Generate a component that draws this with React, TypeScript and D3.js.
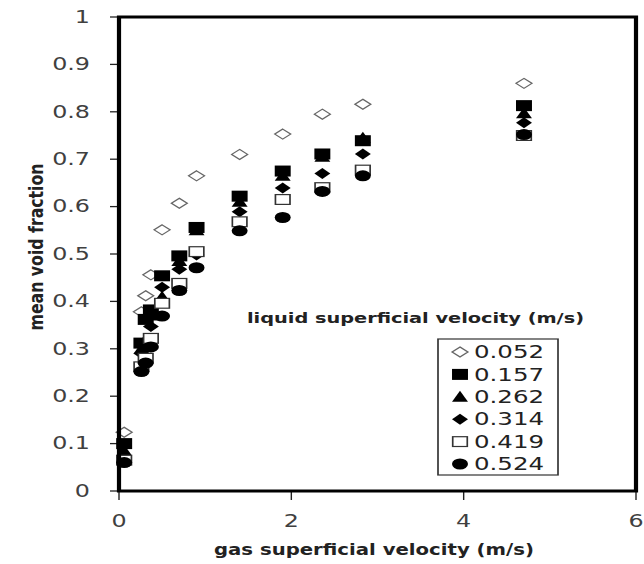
import React from "react";
import * as d3 from "d3";

const gasVelocity = [0.06, 0.26, 0.31, 0.37, 0.5, 0.7, 0.9, 1.4, 1.9, 2.36, 2.83, 4.7];
const seriesNames = ["0.052", "0.157", "0.262", "0.314", "0.419", "0.524"];
const v052 = [0.124, 0.378, 0.412, 0.456, 0.551, 0.607, 0.665, 0.71, 0.753, 0.795, 0.816, 0.86];
const v157 = [0.1, 0.312, 0.362, 0.382, 0.454, 0.496, 0.556, 0.622, 0.675, 0.711, 0.739, 0.813];
const v262 = [0.085, 0.3, 0.32, 0.37, 0.41, 0.485, 0.55, 0.61, 0.665, 0.705, 0.745, 0.797];
const v314 = [0.07, 0.29, 0.3, 0.347, 0.43, 0.468, 0.498, 0.589, 0.639, 0.67, 0.711, 0.777];
const v419 = [0.065, 0.262, 0.28, 0.322, 0.396, 0.438, 0.505, 0.568, 0.615, 0.64, 0.677, 0.75];
const v524 = [0.06, 0.252, 0.27, 0.304, 0.369, 0.423, 0.471, 0.549, 0.577, 0.632, 0.665, 0.752];
const seriesValues = [v052, v157, v262, v314, v419, v524];
const markerKinds = ["openDiamond", "square", "triangle", "diamond", "openSquare", "circle"];
const yTicks = [0, 0.1, 0.2, 0.3, 0.4, 0.5, 0.6, 0.7, 0.8, 0.9, 1];
const xTicks = [0, 2, 4, 6];

const SX = 1.4; // horizontal stretch of the original picture
const W = 644;
const H = 564;

const xScale = d3.scaleLinear().domain([0, 6]).range([119 / SX, 636 / SX]);
const yScale = d3.scaleLinear().domain([0, 1]).range([491, 17]);

function Marker({ kind, x, y }: { kind: string; x: number; y: number }) {
  const hw = 5.7;
  const hh = 5.5;
  const t = `translate(${x},${y})`;
  switch (kind) {
    case "openDiamond":
      return (
        <path transform={t} d={`M0,${-5}L${hw},0L0,5L${-hw},0Z`} fill="#fff" stroke="#666" strokeWidth={1.1} />
      );
    case "diamond":
      return <path transform={t} d={`M0,${-5.5}L${hw},0L0,5.5L${-hw},0Z`} fill="#000" />;
    case "square":
      return <rect x={x - hw} y={y - hh} width={hw * 2} height={hh * 2} fill="#000" />;
    case "openSquare":
      return (
        <rect x={x - hw + 0.5} y={y - hh + 0.6} width={hw * 2 - 1} height={hh * 2 - 1.2} fill="#fff" stroke="#333" strokeWidth={1.2} />
      );
    case "triangle":
      return <path transform={t} d={`M0,${-6}L${hw},5L${-hw},5Z`} fill="#000" />;
    case "circle":
      return <ellipse cx={x} cy={y} rx={hw} ry={hh} fill="#000" />;
    default:
      return null;
  }
}

export default function App() {
  const x0 = xScale(0);
  const x1 = xScale(6);
  const y0 = yScale(0);
  const y1 = yScale(1);
  const legendTop = 339;
  const rowGap = 22.4;
  return (
    <svg width={W} height={H} style={{ display: "block", position: "absolute", left: 0, top: 0, background: "#fff" }}>
      <rect width={W} height={H} fill="#fff" />
      <g transform={`scale(${SX},1)`}>
        {/* y ticks */}
        {yTicks.map((v) => (
          <g key={"y" + v}>
            <line x1={x0 - 9 / SX} x2={x0} y1={yScale(v)} y2={yScale(v)} stroke="#222" strokeWidth={1.3} />
            <text
              x={90 / SX}
              y={yScale(v)}
              textAnchor="end"
              dominantBaseline="central"
              fontFamily="DejaVu Sans"
              fontSize={17}
              fill="#404040"
            >
              {String(+v.toFixed(1))}
            </text>
          </g>
        ))}
        {/* x ticks */}
        {xTicks.map((v) => (
          <g key={"x" + v}>
            <line x1={xScale(v)} x2={xScale(v)} y1={y0} y2={y0 + 9} stroke="#222" strokeWidth={1} />
            <text
              x={xScale(v)}
              y={521}
              textAnchor="middle"
              dominantBaseline="central"
              fontFamily="DejaVu Sans"
              fontSize={17}
              fill="#404040"
            >
              {v}
            </text>
          </g>
        ))}
        {/* legend title */}
        <text
          x={247 / SX}
          y={318}
          dominantBaseline="central"
          fontFamily="DejaVu Sans"
          fontWeight="bold"
          fontSize={13.5}
          fill="#222"
          textLength={(584 - 247) / SX}
          lengthAdjust="spacingAndGlyphs"
        >
          liquid superficial velocity (m/s)
        </text>
        {/* points */}
        {seriesValues.map((vals, si) => (
          <g key={"s" + si}>
            {vals.map((v, i) => (
              <Marker key={i} kind={markerKinds[si]} x={xScale(gasVelocity[i])} y={yScale(v)} />
            ))}
          </g>
        ))}
        {/* frame */}
        <rect x={x0} y={y1} width={x1 - x0} height={y0 - y1} fill="none" stroke="#000" strokeWidth={3} />
        {/* legend */}
        <rect x={438 / SX} y={legendTop} width={(558 - 438) / SX} height={136} fill="#fff" stroke="#333" strokeWidth={1.2} />
        {seriesNames.map((name, i) => {
          const cy = legendTop + 13 + i * rowGap;
          return (
            <g key={"l" + i}>
              <Marker kind={markerKinds[i]} x={460 / SX} y={cy} />
              <text
                x={474 / SX}
                y={cy}
                dominantBaseline="central"
                fontFamily="DejaVu Sans"
                fontSize={17.5}
                fill="#222"
              >
                {name}
              </text>
            </g>
          );
        })}
        {/* axis titles */}
        <text
          x={374 / SX}
          y={550}
          textAnchor="middle"
          dominantBaseline="central"
          fontFamily="DejaVu Sans"
          fontWeight="bold"
          fontSize={15.5}
          fill="#222"
          textLength={320 / SX}
          lengthAdjust="spacingAndGlyphs"
        >
          gas superficial velocity (m/s)
        </text>
        <text
          transform={`translate(${36 / SX},247) rotate(-90)`}
          textAnchor="middle"
          dominantBaseline="central"
          fontFamily="DejaVu Sans"
          fontWeight="bold"
          fontSize={14}
          fill="#222"
          textLength={167}
          lengthAdjust="spacingAndGlyphs"
        >
          mean void fraction
        </text>
      </g>
    </svg>
  );
}
